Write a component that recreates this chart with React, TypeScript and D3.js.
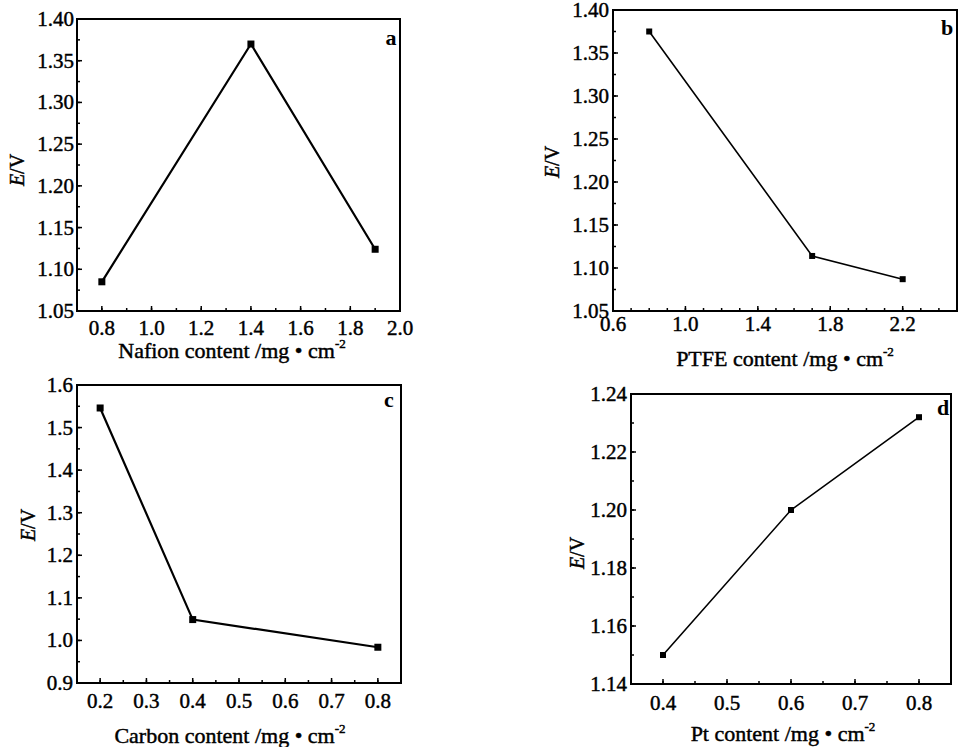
import React from 'react';
import * as d3 from 'd3';

// a: Nafion
const nafionContent = [0.8, 1.4, 1.9];
const nafionE = [1.085, 1.37, 1.124];
const nafionTicksX = [0.8, 1.0, 1.2, 1.4, 1.6, 1.8, 2.0];
const nafionTicksY = [1.05, 1.1, 1.15, 1.2, 1.25, 1.3, 1.35, 1.4];

// b: PTFE
const ptfeContent = [0.8, 1.7, 2.2];
const ptfeE = [1.375, 1.114, 1.087];
const ptfeTicksX = [0.6, 1.0, 1.4, 1.8, 2.2];
const ptfeTicksY = [1.05, 1.1, 1.15, 1.2, 1.25, 1.3, 1.35, 1.4];

// c: carbon
const carbonContent = [0.2, 0.4, 0.8];
const carbonE = [1.546, 1.049, 0.984];
const carbonTicksX = [0.2, 0.3, 0.4, 0.5, 0.6, 0.7, 0.8];
const carbonTicksY = [0.9, 1.0, 1.1, 1.2, 1.3, 1.4, 1.5, 1.6];

// d: Pt
const ptContent = [0.4, 0.6, 0.8];
const ptE = [1.15, 1.2, 1.232];
const ptTicksX = [0.4, 0.5, 0.6, 0.7, 0.8];
const ptTicksY = [1.14, 1.16, 1.18, 1.2, 1.22, 1.24];

const FONT = '"Liberation Serif", "DejaVu Serif", serif';

const panels = [
  {
    id: 'a', title: 'Nafion content /mg • cm', xs: nafionContent, ys: nafionE,
    xTicks: nafionTicksX, yTicks: nafionTicksY, xMinor: 0.1, yMinor: 0.025,
    xDomain: [0.7, 2.0], yDomain: [1.05, 1.4], xFmt: '.1f', yFmt: '.2f',
    left: 77, right: 400, top: 19, bottom: 311,
    xTickY: 335, yTickX: 74, titleX: 232, titleY: 358, eX: 17, eY: 170,
    tagX: 391, tagY: 45, lw: 2.2, ms: 7,
  },
  {
    id: 'b', title: 'PTFE content /mg • cm', xs: ptfeContent, ys: ptfeE,
    xTicks: ptfeTicksX, yTicks: ptfeTicksY, xMinor: 0.1, yMinor: 0.025,
    xDomain: [0.6, 2.5], yDomain: [1.05, 1.4], xFmt: '.1f', yFmt: '.2f',
    left: 613, right: 957, top: 10, bottom: 311,
    xTickY: 331, yTickX: 609, titleX: 785, titleY: 366, eX: 552, eY: 162,
    tagX: 947, tagY: 35, lw: 1.6, ms: 6,
  },
  {
    id: 'c', title: 'Carbon content /mg • cm', xs: carbonContent, ys: carbonE,
    xTicks: carbonTicksX, yTicks: carbonTicksY, xMinor: 0.05, yMinor: 0.05,
    xDomain: [0.15, 0.85], yDomain: [0.9, 1.6], xFmt: '.1f', yFmt: '.1f',
    left: 77, right: 401, top: 385, bottom: 683,
    xTickY: 708, yTickX: 73, titleX: 230, titleY: 743, eX: 28, eY: 525,
    tagX: 389, tagY: 407, lw: 2.2, ms: 7,
  },
  {
    id: 'd', title: 'Pt content /mg • cm', xs: ptContent, ys: ptE,
    xTicks: ptTicksX, yTicks: ptTicksY, xMinor: 0.05, yMinor: 0.01,
    xDomain: [0.35, 0.85], yDomain: [1.14, 1.24], xFmt: '.1f', yFmt: '.2f',
    left: 631, right: 951, top: 394, bottom: 684,
    xTickY: 710, yTickX: 627, titleX: 783, titleY: 741, eX: 577, eY: 553,
    tagX: 943, tagY: 415, lw: 1.6, ms: 6,
  },
];

function Panel({ p }: { p: any }) {
  const x = d3.scaleLinear().domain(p.xDomain).range([p.left, p.right]);
  const y = d3.scaleLinear().domain(p.yDomain).range([p.bottom, p.top]);
  const line = d3.line<number>().x((d, i) => x(p.xs[i])).y(d => y(d));
  const eps = 1e-6;
  const xMinorTicks = d3.range(p.xDomain[0], p.xDomain[1] + eps, p.xMinor)
    .filter(v => x(v) > p.left + 1 && x(v) < p.right - 1);
  const yMinorTicks = d3.range(p.yDomain[0], p.yDomain[1] + eps, p.yMinor)
    .filter(v => y(v) < p.bottom - 1 && y(v) > p.top + 1);
  const fx = d3.format(p.xFmt);
  const fy = d3.format(p.yFmt);
  // scanned print looks heavy, so give the text a thin outline
  const ink = { fill: '#000', stroke: '#000', strokeWidth: 0.45 };
  return (
    <g>
      {xMinorTicks.map((v, i) => (
        <line key={'xm' + i} x1={x(v)} x2={x(v)} y1={p.bottom} y2={p.bottom - 3} stroke="#000" strokeWidth={1.5} />
      ))}
      {p.xTicks.map((v: number, i: number) => (
        <line key={'xt' + i} x1={x(v)} x2={x(v)} y1={p.bottom} y2={p.bottom - 5} stroke="#000" strokeWidth={1.5} />
      ))}
      {yMinorTicks.map((v, i) => (
        <line key={'ym' + i} x1={p.left} x2={p.left + 3} y1={y(v)} y2={y(v)} stroke="#000" strokeWidth={1.5} />
      ))}
      {p.yTicks.map((v: number, i: number) => (
        <line key={'yt' + i} x1={p.left} x2={p.left + 5} y1={y(v)} y2={y(v)} stroke="#000" strokeWidth={1.5} />
      ))}
      <rect x={p.left} y={p.top} width={p.right - p.left} height={p.bottom - p.top}
        fill="none" stroke="#000" strokeWidth={2} />
      <path d={line(p.ys) || ''} fill="none" stroke="#000" strokeWidth={p.lw} />
      {p.ys.map((v: number, i: number) => (
        <rect key={'m' + i} x={x(p.xs[i]) - p.ms / 2} y={y(v) - p.ms / 2} width={p.ms} height={p.ms} fill="#000" />
      ))}
      {p.xTicks.map((v: number, i: number) => (
        <text key={'xl' + i} x={x(v)} y={p.xTickY} textAnchor="middle" fontSize={21} {...ink}>{fx(v)}</text>
      ))}
      {p.yTicks.map((v: number, i: number) => (
        <text key={'yl' + i} x={p.yTickX} y={y(v) + 7} textAnchor="end" fontSize={21} {...ink}>{fy(v)}</text>
      ))}
      <text x={p.titleX} y={p.titleY} textAnchor="middle" fontSize={22} {...ink}>
        {p.title}
        <tspan fontSize={13} dy={-10}>-2</tspan>
      </text>
      <text transform={`translate(${p.eX + 7},${p.eY}) rotate(-90)`} textAnchor="middle" fontSize={20} {...ink}>
        <tspan fontStyle="italic">E</tspan>/V
      </text>
      <text x={p.tagX} y={p.tagY} textAnchor="middle" fontSize={22} fontWeight="bold">{p.id}</text>
    </g>
  );
}

export default function App() {
  return (
    <svg width={959} height={747} style={{ position: 'absolute', left: 0, top: 0, background: '#fff' }}
      fontFamily={FONT}>
      <rect width={959} height={747} fill="#fff" />
      {panels.map(p => <Panel key={p.id} p={p} />)}
    </svg>
  );
}
